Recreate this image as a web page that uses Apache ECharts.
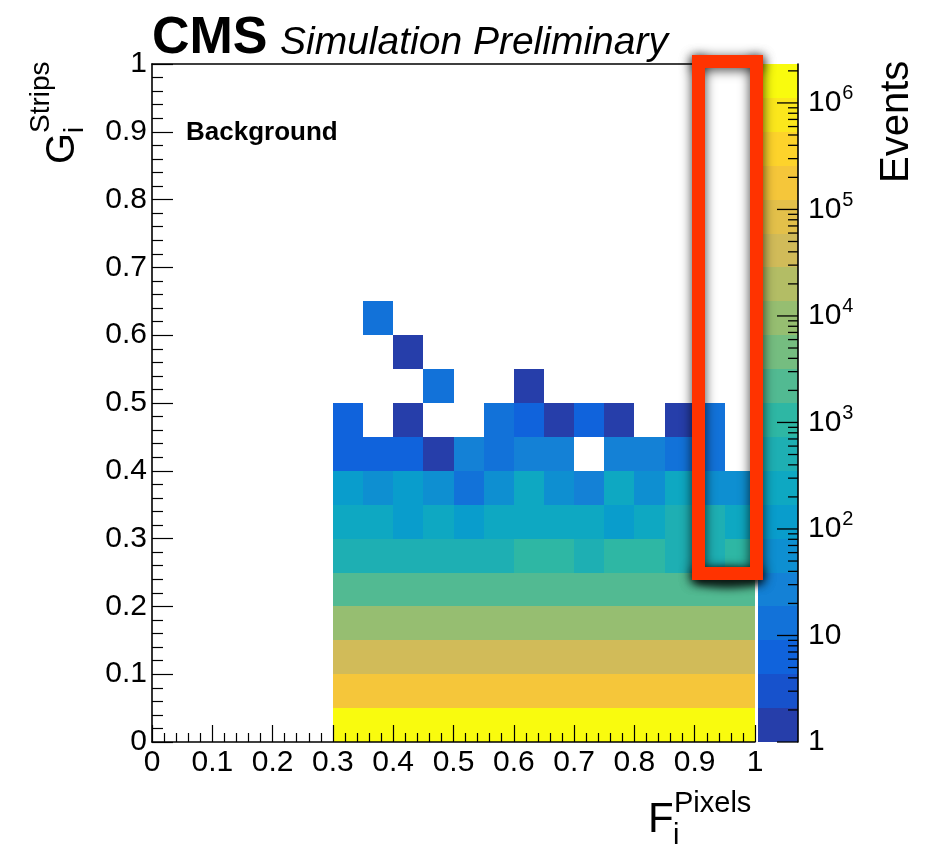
<!DOCTYPE html>
<html><head><meta charset="utf-8">
<script src="https://cdn.jsdelivr.net/npm/echarts@6/dist/echarts.min.js"></script>
<style>html,body{margin:0;padding:0;background:#fff}#c{width:933px;height:844px}</style>
</head><body><div id="c"></div>
<script>
// ---------------- data ----------------
const binWidth = 0.05;
const xBinLow = [0.30,0.35,0.40,0.45,0.50,0.55,0.60,0.65,0.70,0.75,0.80,0.85,0.90,0.95];
const yBinLow = [0.00,0.05,0.10,0.15,0.20,0.25,0.30,0.35,0.40,0.45,0.50,0.55,0.60];
// event counts per G bin row (null = empty bin), columns follow xBinLow
const counts_y00 = [1950000,1980000,2010000,2040000,2060000,2080000,2100000,2120000,2150000,2170000,2190000,2220000,2250000,2280000];
const counts_y05 = [165000,168000,171000,174000,176000,179000,181000,184000,186000,189000,192000,195000,198000,201000];
const counts_y10 = [38500,39000,39600,40100,40700,41200,41800,42300,42900,43400,44000,44600,45100,45700];
const counts_y15 = [8700,8850,9000,9150,9300,9450,9600,9750,9900,10050,10200,10350,10500,10650];
const counts_y20 = [2050,2080,2110,2140,2170,2200,2230,2260,2290,2320,2350,2380,2410,2440];
const counts_y25 = [640,655,670,660,680,700,760,790,710,780,770,720,715,800];
const counts_y30 = [270,255,150,245,140,260,250,240,265,145,235,380,390,275];
const counts_y35 = [120,60,110,58,14,62,190,55,28,200,65,210,60,57];
const counts_y40 = [6,7,6,1,25,12,24,26,null,23,27,13,12,null];
const counts_y45 = [5,null,1,null,null,11,6,1,5,2,null,1,10,null];
const counts_y50 = [null,null,null,11,null,null,1,null,null,null,null,null,null,null];
const counts_y55 = [null,null,1,null,null,null,null,null,null,null,null,null,null,null];
const counts_y60 = [null,12,null,null,null,null,null,null,null,null,null,null,null,null];
const countRows = [counts_y00,counts_y05,counts_y10,counts_y15,counts_y20,counts_y25,counts_y30,counts_y35,counts_y40,counts_y45,counts_y50,counts_y55,counts_y60];
const zMin = 1;
const zMax = 2.32e6;
const nContours = 20;
const xTickLabels = ['0','0.1','0.2','0.3','0.4','0.5','0.6','0.7','0.8','0.9','1'];

// ---------------- style ----------------
const FONT = '"Liberation Sans", Arial, Helvetica, sans-serif';
const palette = ['#263eaa','#1752cc','#1063dc','#1272d9','#1481d6','#0e8fd1','#099dcc','#0ea8c2','#1eafb3','#2eb7a4',
                 '#52ba92','#75bd80','#96be71','#b3bd65','#d1bb59','#e3c04a','#f5c63a','#fdd32b','#fbe71c','#f9fb0e'];
const logMax = Math.log10(zMax), logMin = Math.log10(zMin);
const logStep = (logMax - logMin) / nContours;
function bandOf(v){ let k = Math.floor((Math.log10(v) - logMin) / logStep); return Math.max(0, Math.min(nContours - 1, k)); }

const cells = [];
countRows.forEach((row, j) => row.forEach((v, i) => { if (v != null) cells.push([xBinLow[i], yBinLow[j], v]); }));
const bands = [];
for (let k = 0; k < nContours; k++) bands.push([logMin + k * logStep, logMin + (k + 1) * logStep, k]);
const cbTicks = [];
for (let n = 0; n <= 7; n++) for (let m = 1; m <= 9; m++) { const v = m * Math.pow(10, n); if (v <= zMax) cbTicks.push([Math.log10(v), m === 1 ? 1 : 0]); }

// highlight frame (pixel layout of the annotation)
const boxL = 692, boxR = 763, boxT = 55, boxB = 580, boxW = 13;
const boxBars = [
  [boxL, boxT, boxR - boxL, boxW],
  [boxL, boxB - boxW, boxR - boxL, boxW],
  [boxL, boxT, boxW, boxB - boxT],
  [boxR - boxW, boxT, boxW, boxB - boxT]
];
const OFF = 3000;
const frameGraphics = [];
boxBars.forEach(b => frameGraphics.push({type:'rect', z:98, shape:{x:b[0]-OFF, y:b[1], width:b[2], height:b[3]},
  style:{fill:'#000', shadowBlur:12, shadowColor:'rgba(0,0,0,0.75)', shadowOffsetX:OFF, shadowOffsetY:2}}));
frameGraphics.push({type:'ellipse', z:98, shape:{cx:(boxL+boxR)/2 - OFF, cy:boxB - 2, rx:33, ry:10},
  style:{fill:'#000', shadowBlur:8, shadowColor:'rgba(0,0,0,0.75)', shadowOffsetX:OFF, shadowOffsetY:0}});
boxBars.forEach(b => frameGraphics.push({type:'rect', z:100, shape:{x:b[0], y:b[1], width:b[2], height:b[3]},
  style:{fill:'#ff3300'}}));

const axisLineStyle = {color:'#000', width:1.6};
const chart = echarts.init(document.getElementById('c'), null, {renderer:'canvas'});
chart.setOption({
  animation:false,
  backgroundColor:'#fff',
  grid:[
    {left:152, top:64, width:603, height:678, outerBoundsMode:'none', containLabel:false},
    {left:758, top:64, width:40, height:678, outerBoundsMode:'none', containLabel:false}
  ],
  xAxis:[
    {gridIndex:0, type:'value', min:0, max:1, interval:0.1, position:'bottom', z:10,
     axisLine:{show:true, onZero:false, lineStyle:axisLineStyle},
     axisTick:{show:true, inside:true, length:17, lineStyle:{color:'#000', width:1.2}},
     minorTick:{show:true, splitNumber:5, length:9, lineStyle:{color:'#000', width:1.2}},
     axisLabel:{show:true, margin:6, color:'#000', fontSize:30, fontFamily:FONT,
       formatter:(v)=>{ const i = Math.round(v*10); return xTickLabels[i]; }},
     splitLine:{show:false}},
    {gridIndex:0, type:'value', min:0, max:1, position:'top', z:10,
     axisLine:{show:true, onZero:false, lineStyle:axisLineStyle},
     axisTick:{show:false}, axisLabel:{show:false}, splitLine:{show:false}},
    {gridIndex:1, type:'value', min:0, max:1, show:false}
  ],
  yAxis:[
    {gridIndex:0, type:'value', min:0, max:1, interval:0.1, position:'left', z:10,
     axisLine:{show:true, onZero:false, lineStyle:axisLineStyle},
     axisTick:{show:true, inside:true, length:21, lineStyle:{color:'#000', width:1.2}},
     minorTick:{show:true, splitNumber:5, length:11, lineStyle:{color:'#000', width:1.2}},
     axisLabel:{show:true, margin:5, color:'#000', fontSize:30, fontFamily:FONT,
       formatter:(v)=>{ const i = Math.round(v*10); return xTickLabels[i]; }},
     splitLine:{show:false}},
    {gridIndex:1, type:'value', min:logMin, max:logMax, interval:1, position:'right', z:10,
     axisLine:{show:true, onZero:false, lineStyle:axisLineStyle},
     axisTick:{show:false}, splitLine:{show:false},
     axisLabel:{show:true, margin:10, color:'#000', fontSize:30, fontFamily:FONT, showMaxLabel:false,
       formatter:(v)=>{ if (Math.abs(v-Math.round(v))>1e-6) return ''; const n=Math.round(v);
         if (n===0) return '1'; if (n===1) return '10'; return '{b|10}{s|'+n+'}'; },
       rich:{ b:{fontSize:30, fontFamily:FONT, color:'#000', lineHeight:38},
              s:{fontSize:20, fontFamily:FONT, color:'#000', verticalAlign:'top', padding:[0,0,0,1]} } }}
  ],
  series:[
    {type:'custom', name:'hist', xAxisIndex:0, yAxisIndex:0, z:2, data:cells, clip:false,
     renderItem:(params, api)=>{
       const x0 = api.value(0), y0 = api.value(1), v = api.value(2);
       const p1 = api.coord([x0, y0 + binWidth]);
       const p2 = api.coord([x0 + binWidth, y0]);
       const xa = Math.round(p1[0]), ya = Math.round(p1[1]), xb = Math.round(p2[0]), yb = Math.round(p2[1]);
       return {type:'rect', shape:{x:xa, y:ya, width:xb-xa, height:yb-ya}, style:{fill:palette[bandOf(v)], stroke:null}};
     }},
    {type:'custom', name:'palette', xAxisIndex:2, yAxisIndex:1, z:2, data:bands,
     renderItem:(params, api)=>{
       const p1 = api.coord([0, api.value(1)]);
       const p2 = api.coord([1, api.value(0)]);
       const xa = Math.round(p1[0]), ya = Math.round(p1[1]), xb = Math.round(p2[0]), yb = Math.round(p2[1]);
       return {type:'rect', shape:{x:xa, y:ya, width:xb-xa, height:yb-ya}, style:{fill:palette[api.value(2)]}};
     }},
    {type:'custom', name:'paletteTicks', xAxisIndex:2, yAxisIndex:1, z:5, data:cbTicks,
     renderItem:(params, api)=>{
       const p = api.coord([1, api.value(0)]);
       const len = api.value(1) ? 21 : 10;
       return {type:'line', shape:{x1:p[0]-len, y1:p[1], x2:p[0], y2:p[1]}, style:{stroke:'#000', lineWidth:1.3}};
     }}
  ],
  graphic:[
    {type:'text', x:152, y:39, style:{text:'CMS', fontSize:52, fontWeight:'bold', fontFamily:FONT, fill:'#000', align:'left', verticalAlign:'middle'}},
    {type:'text', x:280, y:43, style:{text:'Simulation Preliminary', fontSize:39, fontStyle:'italic', fontFamily:FONT, fill:'#000', align:'left', verticalAlign:'middle'}},
    {type:'text', x:186, y:133, style:{text:'Background', fontSize:26, fontWeight:'bold', fontFamily:FONT, fill:'#000', align:'left', verticalAlign:'middle'}},
    {type:'text', x:897, y:183, rotation:Math.PI/2, style:{text:'Events', fontSize:40, fontFamily:FONT, fill:'#000', align:'left', verticalAlign:'middle'}},
    {type:'text', x:63, y:164, rotation:Math.PI/2, style:{text:'G', fontSize:40, fontFamily:FONT, fill:'#000', align:'left', verticalAlign:'middle'}},
    {type:'text', x:41, y:133, rotation:Math.PI/2, style:{text:'Strips', fontSize:28, fontFamily:FONT, fill:'#000', align:'left', verticalAlign:'middle'}},
    {type:'text', x:75, y:133, rotation:Math.PI/2, style:{text:'i', fontSize:28, fontFamily:FONT, fill:'#000', align:'left', verticalAlign:'middle'}},
    {type:'text', x:648, y:820, style:{text:'F', fontSize:42, fontFamily:FONT, fill:'#000', align:'left', verticalAlign:'middle'}},
    {type:'text', x:674, y:804, style:{text:'Pixels', fontSize:29, fontFamily:FONT, fill:'#000', align:'left', verticalAlign:'middle'}},
    {type:'text', x:673, y:836, style:{text:'i', fontSize:29, fontFamily:FONT, fill:'#000', align:'left', verticalAlign:'middle'}}
  ].concat(frameGraphics)
});
</script></body></html>
